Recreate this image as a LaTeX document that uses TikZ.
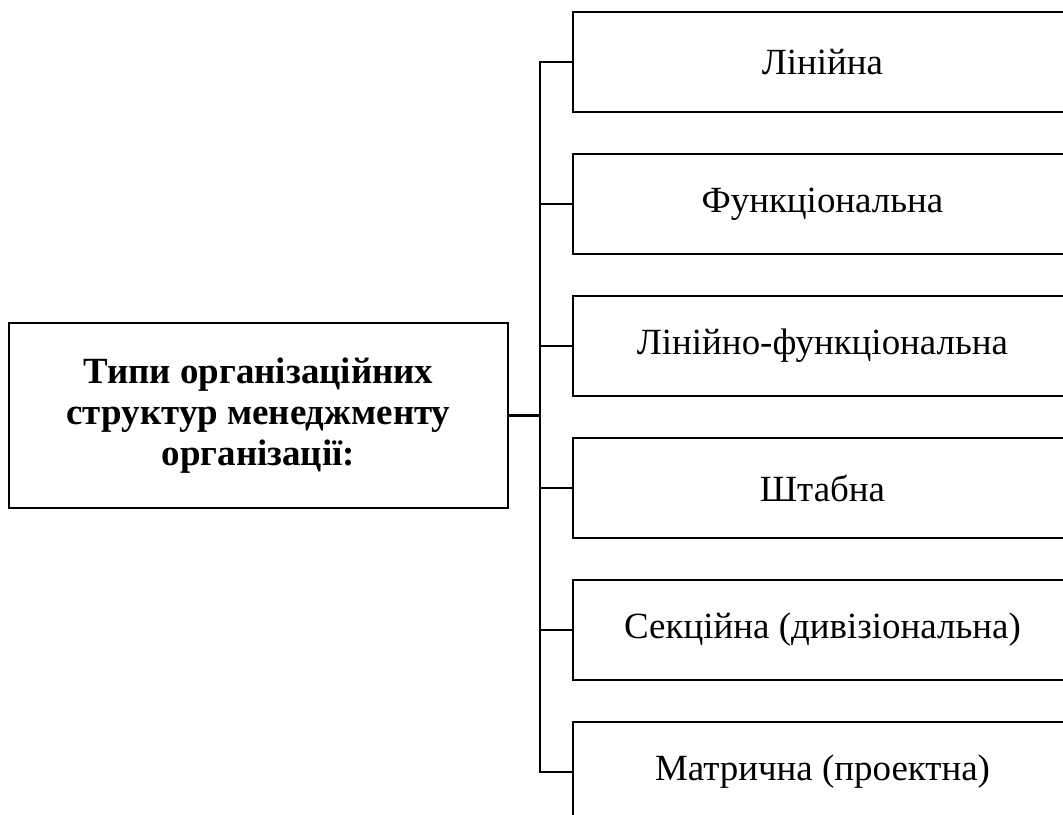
\documentclass[tikz,border=0pt]{standalone}
\usepackage{fontspec}
\setmainfont{Liberation Serif}
\begin{document}
\begin{tikzpicture}[x=0.75pt,y=-0.75pt,
  rbox/.style={draw, line width=2pt, minimum width=374.25pt, minimum height=75pt, inner sep=0pt,
    font=\fontsize{27.7}{31}\selectfont},
  lbox/.style={draw, line width=2pt, minimum width=374.25pt, minimum height=138.75pt, inner sep=0pt,
    align=center, font=\fontsize{27.7}{31}\selectfont\bfseries},
  conn/.style={line width=1.8pt}]
\useasboundingbox (0,0) rectangle (1063,814);
\clip (0,0) rectangle (1063,814);
\node[lbox] (L) at (258.5,415.5) {Типи організаційних\\структур менеджменту\\організації:};
\node[rbox] (r1) at (822.5,62) {Лінійна};
\node[rbox] (r2) at (822.5,204) {Функціональна};
\node[rbox] (r3) at (822.5,346) {Лінійно-функціональна};
\node[rbox] (r4) at (822.5,488) {Штабна};
\node[rbox] (r5) at (822.5,630) {Секційна (дивізіональна)};
\node[rbox] (r6) at (822.5,772) {Матрична (проектна)};
\coordinate (j) at (540,415.5);
\draw[conn] (L.east) -- (j);
\draw[conn] (r1.west) -- (r1.west -| j) -- (r6.west -| j) -- (r6.west);
\foreach \n in {r2,r3,r4,r5} \draw[conn] (\n.west) -- (\n.west -| j);
\end{tikzpicture}
\end{document}
